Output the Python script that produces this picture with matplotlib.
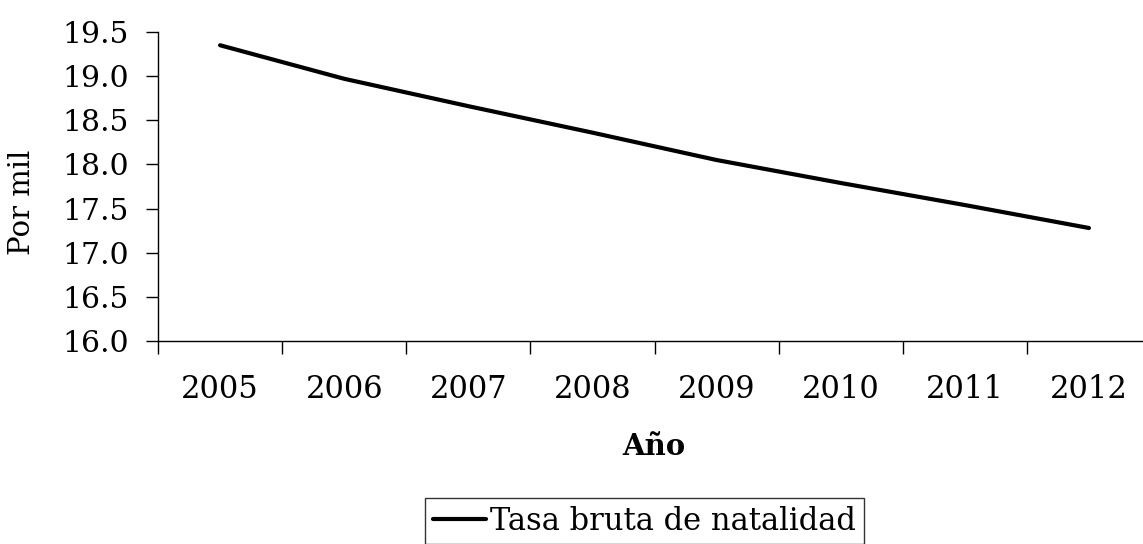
import matplotlib
matplotlib.use("Agg")
import matplotlib.pyplot as plt

years = ["2005", "2006", "2007", "2008", "2009", "2010", "2011", "2012"]
tasa = [19.35, 18.97, 18.66, 18.36, 18.05, 17.79, 17.54, 17.28]
yticks = [16.0, 16.5, 17.0, 17.5, 18.0, 18.5, 19.0, 19.5]

plt.rcParams['font.family'] = ['DejaVu Serif']

fig = plt.figure(figsize=(11.43, 5.44), dpi=100)
ax = fig.add_axes([158/1143, 1-341/544, (1151-158)/1143, (341-32)/544])

x = list(range(len(years)))
ax.plot(x, tasa, color='black', lw=3, label='Tasa bruta de natalidad', solid_capstyle='round')

ax.set_xlim(-0.5, len(years) - 0.5)
ax.set_ylim(16.0, 19.5)
ax.set_yticks(yticks)
ax.set_yticklabels([f"{v:.1f}" for v in yticks])
ax.set_xticks(x)
ax.set_xticklabels(years)
ax.set_xticks([i - 0.5 for i in range(len(years) + 1)], minor=True)
ax.tick_params(axis='x', which='major', length=0, pad=24, labelsize=22)
ax.tick_params(axis='x', which='minor', length=9, width=1, direction='out')
ax.tick_params(axis='y', length=9, width=1, direction='out', pad=12, labelsize=21.5)

for s in ['top', 'right']:
    ax.spines[s].set_visible(False)
for s in ['left', 'bottom']:
    ax.spines[s].set_linewidth(1)

ax.set_ylabel("Por mil", fontsize=21)
ax.yaxis.set_label_coords(-(158-8)/(1151-158), 0.45)
ax.yaxis.label.set_va('top')
ax.set_xlabel("Año", fontsize=21, fontweight='bold')
ax.xaxis.set_label_coords((654-158)/(1151-158), -(432-341)/(341-32))
ax.xaxis.label.set_va('top')

leg = ax.legend(loc='upper left', bbox_to_anchor=(425/1143, 1-498/544),
                bbox_transform=fig.transFigure, fontsize=22, frameon=True,
                fancybox=False, edgecolor='black', handlelength=1.75,
                handletextpad=0.13, borderpad=0.25, borderaxespad=0)
leg.get_frame().set_linewidth(1)

fig.savefig("out.png", dpi=100)
